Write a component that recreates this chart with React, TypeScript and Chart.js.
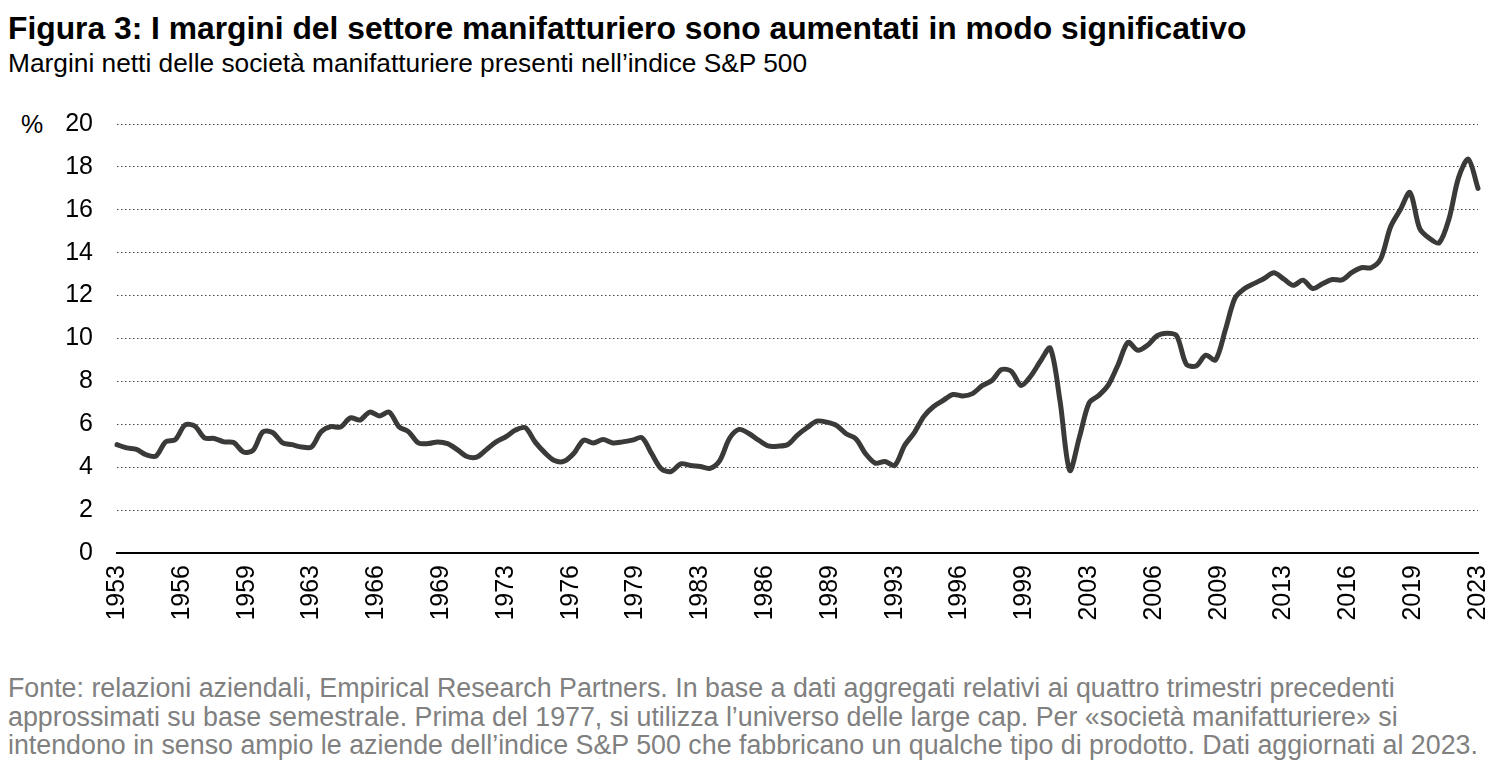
import { useEffect, useRef } from "react"
import { Chart, registerables, type ChartConfiguration } from "chart.js"

Chart.register(...registerables)

// x-axis labels (years), evenly spaced across the series
const xTickLabels = [
  "1953", "1956", "1959", "1963", "1966", "1969", "1973", "1976", "1979", "1983", "1986",
  "1989", "1993", "1996", "1999", "2003", "2006", "2009", "2013", "2016", "2019", "2023",
]

// net margins, %, semi-annual points from 1953 to 2023
const marginValues = [
  5.05, 4.9, 4.83, 4.58, 4.52, 5.18, 5.29, 5.97, 5.92, 5.37,
  5.34, 5.18, 5.15, 4.71, 4.79, 5.65, 5.62, 5.15, 5.05, 4.94,
  4.94, 5.65, 5.89, 5.87, 6.3, 6.2, 6.57, 6.39, 6.57, 5.89,
  5.65, 5.13, 5.1, 5.18, 5.1, 4.82, 4.5, 4.47, 4.82, 5.18,
  5.42, 5.73, 5.84, 5.18, 4.68, 4.31, 4.28, 4.65, 5.26, 5.13,
  5.29, 5.13, 5.18, 5.26, 5.37, 4.63, 3.92, 3.8, 4.16, 4.08,
  4.03, 3.95, 4.31, 5.34, 5.76, 5.57, 5.26, 4.99, 4.98, 5.06,
  5.5, 5.85, 6.15, 6.1, 5.95, 5.56, 5.33, 4.63, 4.19, 4.27,
  4.08, 5.0, 5.6, 6.37, 6.83, 7.12, 7.39, 7.32, 7.43, 7.8,
  8.04, 8.55, 8.47, 7.81, 8.25, 8.95, 9.55, 7.1, 3.85, 5.4,
  7.0, 7.35, 7.85, 8.8, 9.82, 9.45, 9.68, 10.13, 10.25, 10.13,
  8.8, 8.72, 9.22, 9.0, 10.38, 11.88, 12.33, 12.57, 12.8, 13.06,
  12.78, 12.48, 12.72, 12.33, 12.55, 12.75, 12.73, 13.07, 13.3, 13.3,
  13.72, 15.2, 16.0, 16.8, 15.13, 14.67, 14.46, 15.55, 17.5, 18.36,
  17.0,
]

const yMin = 0
const yMax = 20
const yStep = 2

const FONT = '"Liberation Sans", Arial, sans-serif'

function MarginChart() {
  const canvasRef = useRef<HTMLCanvasElement>(null)
  const chartRef = useRef<Chart | null>(null)

  useEffect(() => {
    if (!canvasRef.current) return
    const ctx = canvasRef.current.getContext("2d")
    if (!ctx) return

    if (chartRef.current) chartRef.current.destroy()

    const lastIndex = marginValues.length - 1

    const config: ChartConfiguration<"line"> = {
      type: "line",
      data: {
        datasets: [
          {
            data: marginValues.map((v, i) => ({ x: i, y: v })),
            borderColor: "#3a3a38",
            borderWidth: 5,
            pointRadius: 0,
            tension: 0.3,
            borderCapStyle: "round",
            borderJoinStyle: "round",
            clip: false,
          },
        ],
      },
      options: {
        responsive: true,
        maintainAspectRatio: false,
        animation: false,
        layout: { padding: 0 },
        scales: {
          x: {
            type: "linear",
            min: 0,
            max: lastIndex,
            afterBuildTicks: (scale) => {
              scale.ticks = xTickLabels.map((_, i) => ({
                value: (i * lastIndex) / (xTickLabels.length - 1),
              }))
            },
            afterFit: (scale) => {
              scale.height = 92
            },
            grid: { display: false, drawTicks: false },
            border: { display: true, color: "#000", width: 2 },
            ticks: {
              autoSkip: false,
              minRotation: 90,
              maxRotation: 90,
              padding: 12,
              color: "#000",
              font: { family: FONT, size: 25 },
              callback: (_v, idx) => xTickLabels[idx],
            },
          },
          y: {
            min: yMin,
            max: yMax,
            afterFit: (scale) => {
              scale.width = 117
            },
            grid: { color: "#4a4a4a", lineWidth: 1, drawTicks: false },
            border: { display: false, dash: [1.5, 2.5] },
            ticks: {
              stepSize: yStep,
              padding: 24,
              color: "#000",
              font: { family: FONT, size: 25 },
            },
          },
        },
        plugins: {
          legend: { display: false },
          tooltip: { enabled: false },
        },
      },
    }

    chartRef.current = new Chart(ctx, config)

    return () => {
      if (chartRef.current) {
        chartRef.current.destroy()
        chartRef.current = null
      }
    }
  }, [])

  return <canvas ref={canvasRef} />
}

export default function App() {
  useEffect(() => {
    document.body.style.margin = "0"
  }, [])

  return (
    <div style={{ position: "relative", width: 1500, height: 783, background: "#fff", fontFamily: FONT, overflow: "hidden" }}>
      <div style={{ position: "absolute", left: 8, top: 13, fontSize: 31.8, lineHeight: "31.8px", fontWeight: "bold", color: "#000", whiteSpace: "nowrap" }}>
        Figura 3: I margini del settore manifatturiero sono aumentati in modo significativo
      </div>
      <div style={{ position: "absolute", left: 8, top: 50, fontSize: 26.3, lineHeight: "26.3px", color: "#000", whiteSpace: "nowrap" }}>
        Margini netti delle società manifatturiere presenti nell’indice S&amp;P 500
      </div>
      <div style={{ position: "absolute", left: 21, top: 112, fontSize: 25, lineHeight: "25px", color: "#000" }}>%</div>
      <div style={{ position: "absolute", left: 0, top: 85, width: 1520, height: 560 }}>
        <MarginChart />
      </div>
      <div style={{ position: "absolute", left: 8, top: 674, fontSize: 26.8, lineHeight: "28.5px", color: "#808080", whiteSpace: "nowrap" }}>
        Fonte: relazioni aziendali, Empirical Research Partners. In base a dati aggregati relativi ai quattro trimestri precedenti
        <br />
        approssimati su base semestrale. Prima del 1977, si utilizza l’universo delle large cap. Per «società manifatturiere» si
        <br />
        intendono in senso ampio le aziende dell’indice S&amp;P 500 che fabbricano un qualche tipo di prodotto. Dati aggiornati al 2023.
      </div>
    </div>
  )
}
